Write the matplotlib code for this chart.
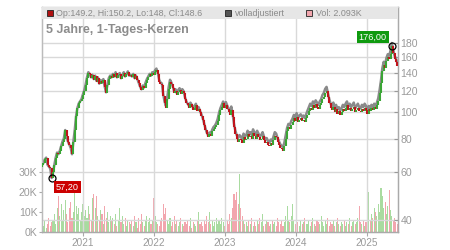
import numpy as np
import pandas as pd
import matplotlib
matplotlib.use("Agg")
import matplotlib.pyplot as plt
from matplotlib.patches import Rectangle

plt.rcParams['font.family'] = ['Liberation Sans', 'DejaVu Sans']

# ---------------- data (weekly) ----------------
start_date = "2020-06-06"
first_open = 63.0
closes = [
    64, 65, 67, 68, 64, 63, 62, 57.2, 60, 64, 68, 71, 70,
    72, 75, 78, 80, 86, 82, 78, 76, 74, 70, 78, 86, 97,
    104, 108, 110, 112, 116, 120, 126, 134, 140, 138, 134, 137, 132,
    136, 130, 134, 127, 131, 128, 132, 124, 118, 126, 133, 136, 134,
    138, 135, 140, 134, 137, 139, 133, 136, 140, 135, 138, 141, 136,
    137, 135, 138, 133, 136, 132, 128, 124, 121, 125, 123, 128, 132,
    135, 138, 136, 140, 137, 141, 143, 138, 130, 127, 126, 115, 108,
    104, 112, 122, 130, 127, 123, 118, 120, 116, 119, 121, 117, 120,
    118, 112, 108, 106, 104, 107, 105, 102, 104, 106, 101, 103, 100,
    97, 94, 90, 86, 83, 81, 83, 82, 85, 87, 88, 90, 93,
    98, 102, 105, 108, 104, 106, 103, 100, 98, 102, 96, 88, 83,
    80, 78, 80, 79, 77, 81, 79, 80, 83, 81, 82, 80, 84,
    82, 80, 83, 81, 79, 80, 82, 79, 77, 78, 76, 75, 77,
    76, 79, 82, 81, 78, 76, 74, 73, 72, 75, 80, 85, 88,
    87, 90, 92, 95, 93, 96, 92, 94, 95, 93, 94, 92, 95,
    98, 101, 104, 102, 106, 104, 107, 105, 103, 106, 108, 112, 114,
    118, 120, 114, 108, 104, 102, 105, 100, 103, 99, 101, 98, 100,
    103, 101, 104, 106, 102, 104, 101, 103, 105, 100, 102, 104, 101,
    100, 103, 101, 104, 102, 99, 103, 101, 104, 102, 105, 103, 106,
    110, 118, 128, 142, 150, 146, 155, 160, 158, 165, 176, 166, 158, 154, 148.6,
]
volumes_k = [
    5, 3, 6, 2, 4, 7, 3, 5, 6, 9, 4, 12, 18,
    8, 14, 6, 11, 16, 9, 5, 12, 15, 7, 10, 21, 13,
    9, 12, 6, 10, 14, 8, 11, 7, 13, 9, 6, 17, 19,
    12, 18, 8, 6, 11, 9, 4, 13, 7, 10, 5, 8, 6,
    7, 4, 9, 3, 6, 12, 5, 8, 4, 7, 3, 6, 5,
    4, 6, 3, 8, 5, 2, 7, 4, 9, 5, 3, 6, 8,
    5, 7, 4, 6, 17, 8, 5, 4, 3, 6, 7, 14, 9,
    12, 6, 4, 7, 3, 5, 8, 4, 6, 3, 5, 7, 4,
    3, 5, 4, 6, 3, 7, 2, 5, 4, 3, 6, 10, 4,
    5, 3, 6, 4, 8, 5, 10, 4, 6, 3, 5, 7, 4,
    6, 4, 7, 5, 3, 8, 6, 4, 9, 7, 12, 19, 16,
    20, 14, 29, 12, 8, 6, 4, 5, 3, 6, 4, 7, 3,
    5, 3, 6, 4, 7, 5, 9, 3, 4, 6, 5, 3, 4,
    6, 4, 5, 3, 7, 5, 4, 6, 3, 5, 8, 13, 6,
    5, 8, 14, 6, 4, 7, 5, 3, 6, 4, 5, 7, 4,
    4, 6, 3, 5, 7, 4, 3, 6, 5, 4, 8, 5, 3,
    6, 4, 7, 3, 5, 4, 6, 3, 5, 7, 4, 3, 5,
    4, 6, 3, 5, 4, 7, 3, 5, 6, 4, 5, 7, 13,
    5, 4, 6, 3, 5, 8, 20, 6, 9, 7, 12, 10, 8,
    14, 10, 22, 18, 12, 15, 9, 13, 21, 11, 8, 6, 7, 5, 4,
]
adj_years = [2020, 2021, 2022, 2023, 2024, 2025]
adj_factors = [1.0, 1.005, 1.015, 1.03, 1.035, 1.025]

price_ticks = [40, 60, 80, 100, 120, 140, 160, 180]
vol_ticks_k = [0, 10, 20, 30]
year_ticks = [2021, 2022, 2023, 2024, 2025]
title_text = "5 Jahre, 1-Tages-Kerzen"
last_op, last_hi, last_lo, last_cl = 149.2, 150.2, 148, 148.6
last_vol_text = "2.093K"
min_price_label = 57.20
max_price_label = 176.00

# ---------------- derived ----------------
dates = pd.date_range(start_date, periods=len(closes), freq="7D")
opens = [first_open] + closes[:-1]
up = [c >= o for o, c in zip(opens, closes)]
fac_map = dict(zip(adj_years, adj_factors))
adjusted = [c * fac_map[d.year] for c, d in zip(closes, dates)]

W, H = 450, 250
fig = plt.figure(figsize=(W / 100, H / 100), dpi=100)
L, R, T, B = 41.7, 397.7, 7.3, 231.7
ax_vol = fig.add_axes([L / W, (H - B) / H, (R - L) / W, (B - T) / H])
ax_p = ax_vol.twinx()

# volume
vol_green = '#a9dba0'
vol_red = '#f2a6ae'
vcols = [vol_green if u else vol_red for u in up]
ax_vol.bar(dates, volumes_k, width=5.5, color=vcols, linewidth=0, zorder=2)
ax_vol.set_ylim(0, (B - T) / 2.0)
ax_vol.set_yticks(vol_ticks_k)
ax_vol.set_yticklabels([f"{v}K" for v in vol_ticks_k])

# price
ax_p.set_yscale('log')
ax_p.set_ylim(36.2, 244.5)
xl = (pd.Timestamp("2020-06-04"), pd.Timestamp("2025-06-09"))
ax_p.set_xlim(*xl)
ax_vol.set_xlim(*xl)

grid_c = '#d9d9d9'
for yv in price_ticks:
    ax_p.axhline(yv, color=grid_c, lw=1.0, zorder=0.5)
for yr in year_ticks:
    ax_p.axvline(pd.Timestamp(f"{yr}-01-01"), color=grid_c, lw=1.0, zorder=0.5)

ax_p.plot(dates, adjusted, color='#8a8a8a', lw=1.8, zorder=2)
ccols = ['#3aa535' if u else '#c0141c' for u in up]
lo = [min(o, c) for o, c in zip(opens, closes)]
hi = [max(o, c) for o, c in zip(opens, closes)]
ax_p.vlines(dates, lo, hi, colors=ccols, lw=1.5, zorder=3)

ax_p.set_yticks(price_ticks)
ax_p.set_yticklabels([str(v) for v in price_ticks])
ax_p.yaxis.set_minor_locator(matplotlib.ticker.NullLocator())

# min/max markers and labels
imax = int(np.argmax(closes))
imin = int(np.argmin(closes))
ax_p.plot(dates[imax], closes[imax], 'o', mfc='none', mec='black', ms=5, mew=0.9, zorder=5)
ax_p.plot(dates[imin], closes[imin], 'o', mfc='none', mec='black', ms=5, mew=0.9, zorder=5)
ax_p.annotate(f"{max_price_label:.2f}".replace('.', ','), (dates[imax], closes[imax]),
              xytext=(-19, 9), textcoords='offset pixels', ha='center', va='center',
              fontsize=6.6, color='white', zorder=6,
              bbox=dict(boxstyle='square,pad=0.2', fc='#0f9a0f', ec='none'))
ax_p.annotate(f"{min_price_label:.2f}".replace('.', ','), (dates[imin], closes[imin]),
              xytext=(16, -9), textcoords='offset pixels', ha='center', va='center',
              fontsize=6.6, color='white', zorder=6,
              bbox=dict(boxstyle='square,pad=0.2', fc='#cc0000', ec='none'))

# x ticks
ax_vol.set_xticks([pd.Timestamp(f"{yr}-01-01") for yr in year_ticks])
ax_vol.set_xticklabels([str(y) for y in year_ticks])

lab_c = '#9a9a9a'
ax_vol.tick_params(axis='x', direction='out', length=3, width=0.8, color='#aaaaaa',
                   labelcolor=lab_c, labelsize=7.2, pad=1.5)
ax_vol.tick_params(axis='y', direction='out', length=2.5, width=0.8, color='#aaaaaa',
                   labelcolor=lab_c, labelsize=7.6, pad=0.5)
ax_p.tick_params(axis='y', which='major', direction='in', length=3, width=0.8, color='#999999',
                 labelcolor=lab_c, labelsize=7.6, pad=2)

for ax in (ax_vol, ax_p):
    ax.spines['top'].set_color('#cccccc')
    ax.spines['left'].set_color('#bbbbbb')
    ax.spines['bottom'].set_color('#aaaaaa')
    ax.spines['right'].set_color('#aaaaaa')
    for s in ax.spines.values():
        s.set_linewidth(0.9)
ax_vol.patch.set_facecolor('white')

# legend band
def fx(x):
    return x / W

def fy(y):
    return (H - y) / H

band_top, band_bot = 7.3, 18.7
fig.patches.append(Rectangle((fx(L), fy(band_bot)), (R - L) / W, (band_bot - band_top) / H,
                             transform=fig.transFigure, fc='#e6e6e6', ec='none', zorder=3))
leg_y = fy(13.2)
items = [
    (46.7, '#b01010', f"Op:{last_op}, Hi:{last_hi}, Lo:{last_lo:g}, Cl:{last_cl}"),
    (225.0, '#555555', "volladjustiert"),
    (306.0, '#f2a6ae', f"Vol: {last_vol_text}"),
]
for x0, col, txt in items:
    fig.patches.append(Rectangle((fx(x0), fy(16.2)), 6 / W, 6 / H, transform=fig.transFigure,
                                 fc=col, ec='#222222', lw=0.6, zorder=4))
    fig.text(fx(x0 + 9.5), leg_y, txt, fontsize=6.4, color='#8a8a8a', va='center', ha='left', zorder=5)

fig.text(fx(46.5), fy(30), title_text, fontsize=9.0, fontweight='bold', color='#8c8c8c',
         va='center', ha='left', zorder=5)

fig.savefig("out.png", dpi=100)
